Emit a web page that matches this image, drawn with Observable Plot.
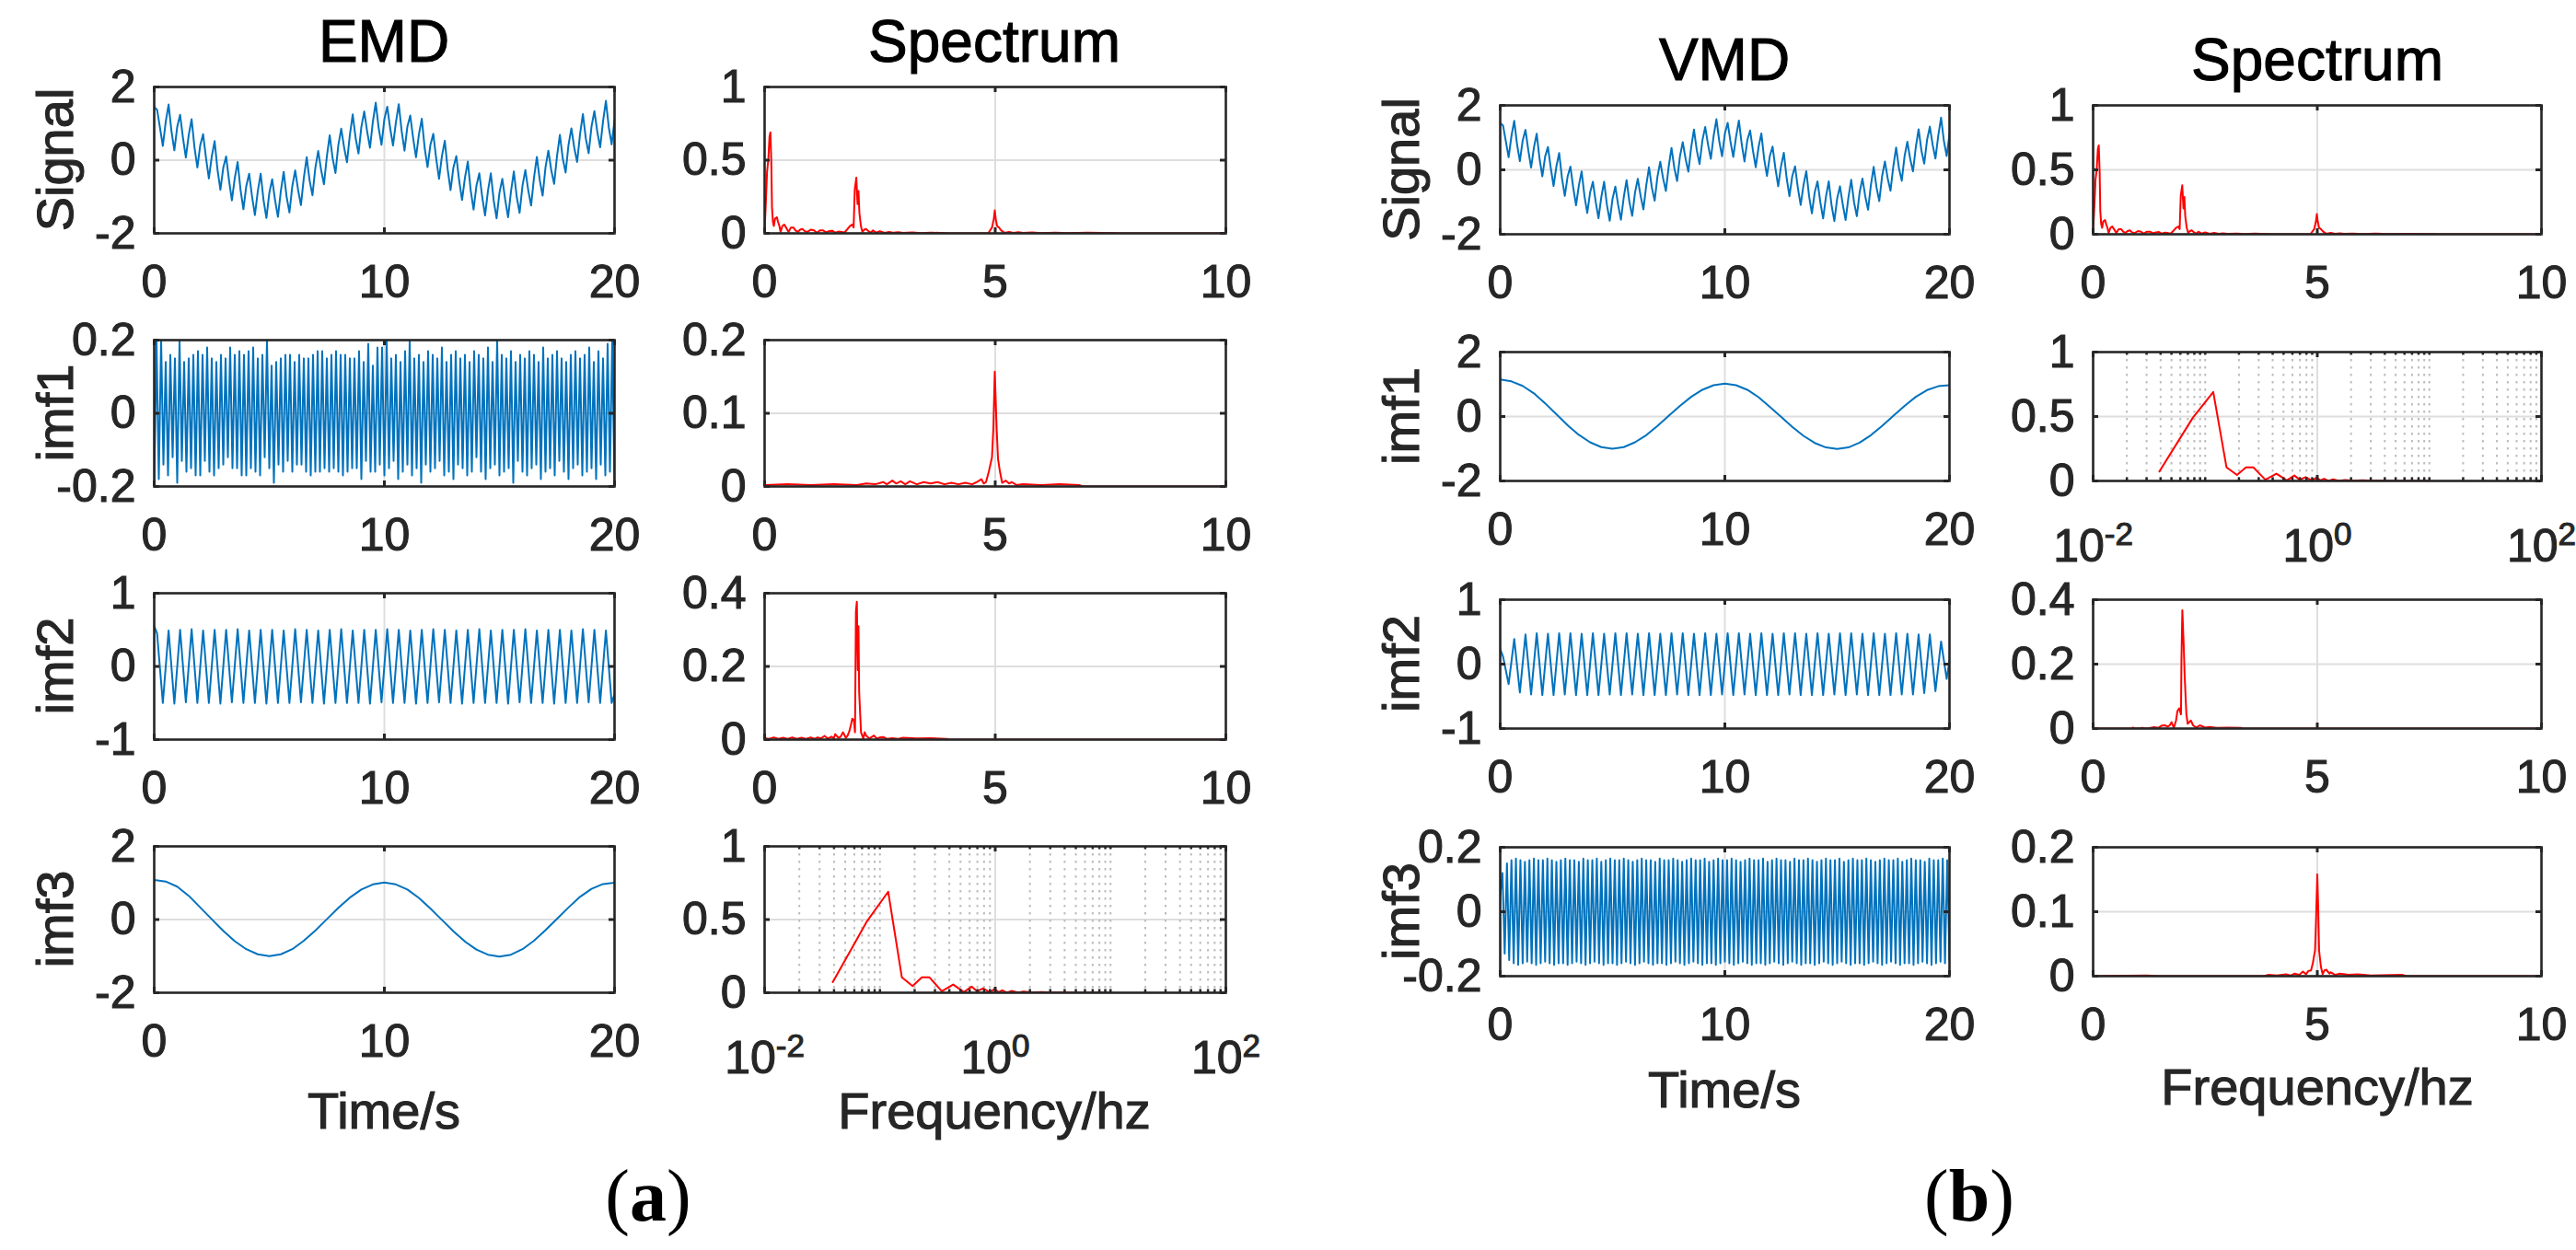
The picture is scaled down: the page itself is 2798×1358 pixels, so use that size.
<!DOCTYPE html>
<html><head><meta charset="utf-8">
<script src="https://cdn.jsdelivr.net/npm/d3@7"></script>
<script src="https://cdn.jsdelivr.net/npm/@observablehq/plot@0.6"></script>
<style>
html,body{margin:0;padding:0;background:#fff;overflow:hidden;}
#fig{position:relative;width:2798px;height:1358px;background:#fff;}
</style></head><body><div id="fig"></div>
<script>
// ---------------- DATA ----------------
// Composite signal, sampled every 0.125 s from t = 0 to 20 s
const signalT0 = 0, signalStep = 0.125;
const signal = [
 1.45,1.38,0.89,0.39,1.05,1.52,0.79,0.27,0.91,1.24,
 0.61,0.07,0.69,1.12,0.35,-0.20,0.41,0.71,0.06,-0.50,
 0.10,0.52,-0.26,-0.81,-0.21,0.10,-0.55,-1.10,-0.49,-0.05,
 -0.81,-1.34,-0.71,-0.37,-0.99,-1.50,-0.85,-0.37,-1.09,-1.58,
 -0.90,-0.52,-1.09,-1.55,-0.85,-0.32,-0.99,-1.43,-0.71,-0.28,
 -0.81,-1.23,-0.49,0.08,-0.55,-0.96,-0.21,0.25,-0.26,-0.66,
 0.10,0.68,0.06,-0.35,0.41,0.86,0.35,-0.06,0.69,1.25,
 0.61,0.18,0.91,1.33,0.79,0.34,1.05,1.57,0.89,0.42,
 1.12,1.46,0.88,0.40,1.03,1.53,0.80,0.26,0.92,1.22,
 0.60,0.08,0.70,1.13,0.34,-0.19,0.42,0.72,0.05,-0.51,
 0.11,0.53,-0.25,-0.82,-0.20,0.11,-0.56,-1.09,-0.48,-0.04,
 -0.82,-1.35,-0.70,-0.36,-1.00,-1.51,-0.84,-0.36,-1.10,-1.59,
 -0.89,-0.51,-1.08,-1.56,-0.86,-0.31,-1.00,-1.44,-0.70,-0.27,
 -0.82,-1.24,-0.48,0.09,-0.54,-0.97,-0.20,0.26,-0.27,-0.65,
 0.11,0.69,0.05,-0.34,0.42,0.87,0.34,-0.05,0.70,1.26,
 0.60,0.19,0.92,1.34,0.78,0.35,1.06,1.62,0.90,0.43,
 1.10
];
// EMD imf1 (5 Hz mode): troughs at t = 0, 0.2, ... 20 ; peaks at t = 0.1, 0.3, ... 19.9
const emdImf1Troughs = [
 -0.20,-0.18,-0.14,-0.17,-0.12,-0.19,-0.13,-0.16,-0.15,-0.17,
 -0.17,-0.13,-0.16,-0.17,-0.15,-0.14,-0.12,-0.15,-0.15,-0.17,
 -0.17,-0.15,-0.16,-0.17,-0.12,-0.15,-0.19,-0.14,-0.16,-0.13,
 -0.16,-0.14,-0.14,-0.16,-0.17,-0.16,-0.16,-0.15,-0.16,-0.15,
 -0.16,-0.17,-0.16,-0.15,-0.15,-0.18,-0.13,-0.16,-0.16,-0.14,
 -0.17,-0.15,-0.13,-0.18,-0.16,-0.14,-0.17,-0.15,-0.19,-0.14,
 -0.16,-0.15,-0.13,-0.17,-0.16,-0.18,-0.14,-0.15,-0.17,-0.16,
 -0.12,-0.16,-0.18,-0.15,-0.14,-0.17,-0.16,-0.15,-0.19,-0.13,
 -0.16,-0.17,-0.15,-0.14,-0.18,-0.16,-0.15,-0.17,-0.13,-0.16,
 -0.18,-0.15,-0.14,-0.17,-0.16,-0.15,-0.18,-0.14,-0.17,-0.16,
 -0.20
];
const emdImf1Peaks = [
 0.20,0.20,0.14,0.16,0.15,0.20,0.14,0.15,0.16,0.17,
 0.16,0.18,0.15,0.14,0.16,0.15,0.18,0.16,0.17,0.16,
 0.17,0.18,0.15,0.16,0.20,0.13,0.14,0.15,0.16,0.16,
 0.14,0.16,0.15,0.15,0.16,0.17,0.17,0.15,0.16,0.17,
 0.16,0.16,0.15,0.15,0.17,0.14,0.19,0.13,0.18,0.18,
 0.20,0.15,0.16,0.14,0.17,0.20,0.15,0.16,0.14,0.17,
 0.16,0.15,0.18,0.14,0.16,0.17,0.15,0.16,0.14,0.17,
 0.16,0.15,0.18,0.14,0.20,0.16,0.15,0.17,0.14,0.16,
 0.15,0.17,0.16,0.14,0.18,0.15,0.16,0.17,0.15,0.14,
 0.16,0.17,0.15,0.16,0.18,0.14,0.17,0.15,0.19,0.20
];
// EMD imf2 (2 Hz mode): value at t=0, extrema at t = 0.125, 0.375, ... 19.875, value at t=20
const emdImf2Start = 0.55, emdImf2End = -0.38;
const emdImf2Extrema = [
 0.45,-0.50,0.49,-0.51,0.50,-0.49,0.51,-0.50,0.49,-0.50,
 0.50,-0.51,0.50,-0.49,0.51,-0.50,0.49,-0.50,0.50,-0.51,
 0.50,-0.50,0.49,-0.50,0.51,-0.49,0.50,-0.50,0.49,-0.51,
 0.50,-0.50,0.51,-0.50,0.49,-0.50,0.50,-0.51,0.50,-0.49,
 0.51,-0.50,0.50,-0.50,0.49,-0.51,0.50,-0.50,0.51,-0.49,
 0.50,-0.50,0.49,-0.51,0.50,-0.50,0.51,-0.50,0.49,-0.50,
 0.50,-0.51,0.50,-0.49,0.51,-0.50,0.49,-0.50,0.50,-0.51,
 0.50,-0.50,0.49,-0.50,0.51,-0.49,0.50,-0.50,0.49,-0.50
];
// Slow (0.1 Hz) modes, sampled every 0.5 s
const slowStep = 0.5;
const emdImf3 = [1.08,1.04,0.90,0.65,0.33,0.01,-0.31,-0.59,-0.81,-0.95,-1.00,-0.95,-0.81,-0.58,-0.30,0.01,0.32,0.60,0.82,0.96,1.01,0.96,0.82,0.59,0.30,-0.01,-0.32,-0.60,-0.82,-0.96,-1.01,-0.96,-0.81,-0.58,-0.29,0.02,0.33,0.62,0.84,0.97,1.01];
const vmdImf1 = [1.15,1.09,0.95,0.72,0.41,0.07,-0.27,-0.57,-0.80,-0.95,-1.00,-0.95,-0.80,-0.58,-0.29,0.02,0.33,0.61,0.83,0.97,1.02,0.97,0.83,0.60,0.30,-0.01,-0.32,-0.60,-0.82,-0.96,-1.01,-0.96,-0.81,-0.58,-0.29,0.02,0.33,0.61,0.82,0.94,0.97];
// VMD imf2 (2 Hz mode)
const vmdImf2Start = 0.23, vmdImf2End = 0.06;
const vmdImf2Extrema = [
 0.12,-0.31,0.39,-0.44,0.46,-0.47,0.48,-0.48,0.47,-0.48,
 0.48,-0.47,0.48,-0.48,0.47,-0.48,0.48,-0.48,0.47,-0.47,
 0.48,-0.48,0.48,-0.47,0.47,-0.48,0.48,-0.48,0.47,-0.48,
 0.48,-0.47,0.48,-0.48,0.47,-0.48,0.48,-0.48,0.47,-0.47,
 0.48,-0.48,0.48,-0.47,0.47,-0.48,0.48,-0.48,0.47,-0.48,
 0.48,-0.47,0.48,-0.48,0.47,-0.48,0.48,-0.48,0.47,-0.47,
 0.48,-0.48,0.48,-0.47,0.47,-0.48,0.48,-0.48,0.47,-0.48,
 0.48,-0.47,0.47,-0.47,0.46,-0.45,0.46,-0.42,0.35,-0.23
];
// VMD imf3 (5 Hz mode)
const vmdImf3Troughs = [
 0.05,-0.13,-0.15,-0.16,-0.165,-0.16,-0.155,-0.16,-0.165,-0.16,
 -0.155,-0.16,-0.165,-0.16,-0.16,-0.165,-0.16,-0.155,-0.16,-0.165,
 -0.16,-0.155,-0.16,-0.165,-0.16,-0.16,-0.165,-0.16,-0.155,-0.16,
 -0.165,-0.16,-0.155,-0.16,-0.165,-0.16,-0.16,-0.165,-0.16,-0.155,
 -0.16,-0.165,-0.16,-0.155,-0.16,-0.165,-0.16,-0.16,-0.165,-0.16,
 -0.155,-0.16,-0.165,-0.16,-0.155,-0.16,-0.165,-0.16,-0.16,-0.165,
 -0.16,-0.155,-0.16,-0.165,-0.16,-0.155,-0.16,-0.165,-0.16,-0.16,
 -0.165,-0.16,-0.155,-0.16,-0.165,-0.16,-0.155,-0.16,-0.165,-0.16,
 -0.16,-0.165,-0.16,-0.155,-0.16,-0.165,-0.16,-0.155,-0.16,-0.165,
 -0.16,-0.16,-0.165,-0.16,-0.155,-0.16,-0.165,-0.16,-0.155,-0.16,
 -0.15
];
const vmdImf3Peaks = [
 0.12,0.15,0.16,0.165,0.16,0.155,0.16,0.165,0.16,0.16,
 0.165,0.16,0.155,0.16,0.165,0.16,0.16,0.155,0.165,0.16,
 0.16,0.165,0.155,0.16,0.165,0.16,0.16,0.165,0.16,0.155,
 0.16,0.165,0.16,0.16,0.155,0.165,0.16,0.16,0.165,0.16,
 0.155,0.16,0.165,0.16,0.16,0.165,0.155,0.16,0.165,0.16,
 0.16,0.165,0.16,0.155,0.16,0.165,0.16,0.16,0.165,0.155,
 0.16,0.165,0.16,0.16,0.155,0.165,0.16,0.16,0.165,0.16,
 0.155,0.16,0.165,0.16,0.16,0.165,0.155,0.16,0.165,0.16,
 0.16,0.165,0.16,0.155,0.16,0.165,0.16,0.16,0.165,0.155,
 0.16,0.165,0.16,0.16,0.155,0.165,0.16,0.16,0.165,0.16
];
// Spectra: [frequency Hz, amplitude]
const specSignal = [[0,0.02],[0.027,0.21],[0.053,0.42],[0.08,0.5],[0.106,0.66],[0.126,0.69],[0.146,0.48],[0.16,0.18],[0.18,0.08],[0.2,0.05],[0.226,0.1],[0.266,0.11],[0.29,0.08],[0.32,0.05],[0.346,0.01],[0.386,0.05],[0.426,0.06],[0.465,0.04],[0.52,0.01],[0.57,0.04],[0.625,0.04],[0.67,0.02],[0.72,0.01],[0.77,0.025],[0.82,0.03],[0.87,0.015],[0.93,0.01],[1.0,0.025],[1.07,0.02],[1.13,0.005],[1.2,0.02],[1.27,0.02],[1.33,0.008],[1.4,0.015],[1.47,0.018],[1.53,0.005],[1.6,0.012],[1.67,0.01],[1.73,0.005],[1.8,0.03],[1.85,0.05],[1.9,0.06],[1.93,0.04],[1.955,0.3],[1.988,0.38],[2.015,0.2],[2.035,0.29],[2.055,0.14],[2.088,0.05],[2.12,0.01],[2.16,0.025],[2.2,0.03],[2.25,0.015],[2.3,0.005],[2.35,0.02],[2.42,0.005],[2.5,0.015],[2.6,0.004],[2.7,0.01],[2.8,0.004],[2.9,0.008],[3.0,0.003],[3.2,0.006],[3.4,0.002],[3.6,0.005],[3.9,0.002],[4.0,0],[4.85,0.002],[4.93,0.04],[4.97,0.1],[4.99,0.157],[5.01,0.1],[5.04,0.05],[5.08,0.04],[5.13,0.02],[5.2,0.004],[5.3,0.01],[5.4,0.003],[5.5,0.008],[5.6,0.003],[5.8,0.006],[6.0,0.002],[6.3,0.005],[6.6,0.002],[7.0,0.004],[7.6,0.002],[7.7,0],[10,0]];
const specEmdImf1 = [[0,0.002],[0.5,0.003],[1.0,0.002],[1.5,0.003],[2.0,0.002],[2.2,0.004],[2.4,0.003],[2.57,0.006],[2.65,0.003],[2.77,0.008],[2.85,0.004],[2.95,0.007],[3.05,0.003],[3.15,0.007],[3.3,0.003],[3.45,0.006],[3.6,0.004],[3.75,0.006],[3.9,0.003],[4.05,0.005],[4.2,0.003],[4.35,0.005],[4.5,0.003],[4.6,0.006],[4.7,0.01],[4.75,0.004],[4.8,0.006],[4.86,0.02],[4.93,0.04],[4.96,0.08],[4.99,0.157],[5.03,0.08],[5.06,0.038],[5.1,0.021],[5.15,0.005],[5.23,0.008],[5.3,0.004],[5.36,0.006],[5.46,0.002],[5.6,0.003],[6.0,0.002],[6.4,0.003],[6.82,0.002],[6.9,0],[10,0]];
const specEmdImf2 = [[0,0.004],[0.1,0.002],[0.2,0.006],[0.3,0.002],[0.4,0.005],[0.5,0.002],[0.6,0.006],[0.7,0.002],[0.8,0.005],[0.9,0.002],[1.0,0.006],[1.08,0.002],[1.15,0.006],[1.22,0.003],[1.3,0.01],[1.37,0.003],[1.45,0.008],[1.5,0.003],[1.53,0.015],[1.6,0.005],[1.65,0.008],[1.7,0.02],[1.76,0.005],[1.8,0.011],[1.84,0.024],[1.88,0.045],[1.9,0.057],[1.935,0.053],[1.96,0.02],[1.98,0.35],[2.0,0.377],[2.02,0.19],[2.035,0.31],[2.05,0.13],[2.09,0.02],[2.14,0.003],[2.17,0.02],[2.2,0.011],[2.27,0.003],[2.37,0.011],[2.43,0.003],[2.5,0.006],[2.57,0.007],[2.65,0.002],[2.77,0.004],[2.9,0.002],[3.0,0.005],[3.3,0.003],[3.6,0.004],[3.95,0.002],[4.0,0],[10,0]];
const specLow = [[0.039,0.073],[0.0775,0.49],[0.118,0.69],[0.155,0.105],[0.192,0.046],[0.231,0.105],[0.269,0.105],[0.344,0.01],[0.432,0.056],[0.535,0.004],[0.624,0.042],[0.697,0.01],[0.787,0.03],[0.889,0.004],[0.988,0.025],[1.07,0.004],[1.15,0.017],[1.26,0.001],[1.38,0.012],[1.57,0.001],[1.77,0.008],[2.1,0.001],[2.52,0.005],[3.1,0.001],[4.0,0.002],[5.0,0],[9.96,0]];
const specVmdImf2 = [[0,0],[0.85,0],[0.88,0.003],[0.95,0],[1.1,0.002],[1.2,0],[1.36,0.004],[1.45,0.002],[1.53,0.009],[1.6,0.01],[1.66,0.006],[1.71,0.01],[1.75,0.02],[1.8,0.002],[1.85,0.025],[1.88,0.054],[1.92,0.063],[1.96,0.044],[1.97,0.21],[1.99,0.367],[2.02,0.26],[2.04,0.17],[2.08,0.044],[2.11,0.015],[2.18,0.025],[2.23,0.01],[2.3,0.003],[2.38,0.01],[2.5,0.003],[2.6,0.005],[2.75,0.002],[3.0,0.003],[3.3,0.002],[3.35,0],[10,0]];
const specVmdImf3 = [[0,0],[1.2,0.001],[1.5,0],[3.8,0],[3.9,0.002],[4.1,0.001],[4.3,0.003],[4.4,0.001],[4.5,0.004],[4.6,0.002],[4.68,0.007],[4.75,0.003],[4.8,0.008],[4.86,0.009],[4.9,0.02],[4.95,0.04],[4.97,0.082],[5.0,0.158],[5.02,0.106],[5.04,0.04],[5.08,0.015],[5.12,0.003],[5.16,0.009],[5.2,0.01],[5.27,0.004],[5.3,0.006],[5.4,0.002],[5.5,0.004],[5.7,0.002],[5.9,0.003],[6.2,0.001],[6.9,0.002],[7.0,0],[10,0]];
// Axis ticks
const timeTicks = [0, 10, 20];
const freqTicks = [0, 5, 10];
const logTicks = [0.01, 1, 100];
const logMinor = [0.02,0.03,0.04,0.05,0.06,0.07,0.08,0.09,0.1,0.2,0.3,0.4,0.5,0.6,0.7,0.8,0.9,2,3,4,5,6,7,8,9,10,20,30,40,50,60,70,80,90];
const ticksSignal = [-2, 0, 2], ticksImfSmall = [-0.2, 0, 0.2], ticksImf2 = [-1, 0, 1];
const ticksSpec1 = [0, 0.5, 1], ticksSpec02 = [0, 0.1, 0.2], ticksSpec04 = [0, 0.2, 0.4];

// ---------------- series builders ----------------
const gridSeries = (vals, t0, dt) => vals.map((v, i) => ({x: t0 + i * dt, y: v}));
const extremaSeries = (start, ext, end) => [{x: 0, y: start}, ...ext.map((v, i) => ({x: 0.125 + 0.25 * i, y: v})), {x: 20, y: end}];
const alternating = (troughs, peaks) => {
  const out = [];
  troughs.forEach((v, i) => { out.push({x: 0.2 * i, y: v}); if (i < peaks.length) out.push({x: 0.2 * i + 0.1, y: peaks[i]}); });
  return out;
};
const pairs = (arr) => arr.map(([f, a]) => ({x: f, y: a}));

// ---------------- layout ----------------
const FONT = '"Liberation Sans", Arial, Helvetica, sans-serif';
const INK = "#262626", BLUE = "#0072BD", RED = "#FF0000";
const TEXT_STROKE = 1.1;
const fig = document.getElementById("fig");
const A = {time: {x: 167, w: 500}, spec: {x: 830, w: 501}, rows: [94, 369, 644, 919], h: 159};
const B = {time: {x: 1629, w: 488}, spec: {x: 2273, w: 487}, rows: [114, 382, 651, 920], h: 140};

function subplot({left, top, w, h, data, color, log = false, xDomain, xTicks, yTicks}) {
  const mL = 150, mR = 80, mT = 45, mB = 125;
  const yDomain = [yTicks[0], yTicks[yTicks.length - 1]];
  const xGrid = xTicks.slice(1, -1), yGrid = yTicks.slice(1, -1);
  const tk = {stroke: INK, strokeWidth: 3};
  const marks = [
    Plot.ruleY(yGrid, {stroke: "#dedede", strokeWidth: 2}),
    Plot.ruleX(xGrid, {stroke: "#dedede", strokeWidth: 2})
  ];
  if (log) marks.push(Plot.ruleX(logMinor, {stroke: "#bdbdbd", strokeWidth: 2, strokeDasharray: "2.5,5.5"}));
  marks.push(
    Plot.line(data, {x: "x", y: "y", stroke: color, strokeWidth: 2, clip: true}),
    Plot.frame({stroke: INK, strokeWidth: 2.6}),
    Plot.tickX(xTicks, {x: d => d, insetTop: h - 6, ...tk}),
    Plot.tickX(xTicks, {x: d => d, insetBottom: h - 6, ...tk}),
    Plot.tickY(yTicks, {y: d => d, insetRight: w - 6, ...tk}),
    Plot.tickY(yTicks, {y: d => d, insetLeft: w - 6, ...tk})
  );
  if (log) marks.push(
    Plot.tickX(logMinor, {x: d => d, insetTop: h - 3.5, stroke: INK, strokeWidth: 2.5}),
    Plot.tickX(logMinor, {x: d => d, insetBottom: h - 3.5, stroke: INK, strokeWidth: 2.5})
  );
  marks.push(
    Plot.axisX(xTicks, {tickSize: 0, tickPadding: log ? 52 : 34, label: null,
      tickFormat: log ? (d => "10^" + Math.round(Math.log10(d))) : (d => String(d))}),
    Plot.axisY(yTicks, {tickSize: 0, tickPadding: 20, label: null, tickFormat: d => String(d)})
  );
  const svg = Plot.plot({
    width: w + mL + mR, height: h + mT + mB,
    marginLeft: mL, marginRight: mR, marginTop: mT, marginBottom: mB,
    x: {type: log ? "log" : "linear", domain: xDomain, label: null},
    y: {domain: yDomain, label: null},
    style: {fontFamily: FONT, fontSize: "50px", color: INK, background: "none", overflow: "visible"},
    marks
  });
  if (log) {
    const ns = "http://www.w3.org/2000/svg";
    svg.querySelectorAll('[aria-label="x-axis tick label"] text').forEach(t => {
      const [base, exp] = t.textContent.split("^");
      t.textContent = "";
      const a = document.createElementNS(ns, "tspan"); a.textContent = base; t.appendChild(a);
      const b = document.createElementNS(ns, "tspan"); b.textContent = exp;
      b.setAttribute("dy", "-18"); b.style.fontSize = "35px"; t.appendChild(b);
    });
  }
  svg.querySelectorAll('[aria-label$="tick label"]').forEach(g => {
    g.setAttribute("stroke", INK); g.setAttribute("stroke-width", TEXT_STROKE);
  });
  svg.style.position = "absolute";
  svg.style.left = (left - mL) + "px";
  svg.style.top = (top - mT) + "px";
  svg.style.maxWidth = "none";
  fig.appendChild(svg);
}

const timeSub = (P, row, data, yTicks) => subplot({left: P.time.x, top: P.rows[row], w: P.time.w, h: P.h, data, color: BLUE, xDomain: [0, 20], xTicks: timeTicks, yTicks});
const specSub = (P, row, data, yTicks, log = false) => subplot({left: P.spec.x, top: P.rows[row], w: P.spec.w, h: P.h, data, color: RED, log,
  xDomain: log ? [0.01, 100] : [0, 10], xTicks: log ? logTicks : freqTicks, yTicks});

// Panel (a) EMD
timeSub(A, 0, gridSeries(signal, signalT0, signalStep), ticksSignal);
timeSub(A, 1, alternating(emdImf1Troughs, emdImf1Peaks), ticksImfSmall);
timeSub(A, 2, extremaSeries(emdImf2Start, emdImf2Extrema, emdImf2End), ticksImf2);
timeSub(A, 3, gridSeries(emdImf3, 0, slowStep), ticksSignal);
specSub(A, 0, pairs(specSignal), ticksSpec1);
specSub(A, 1, pairs(specEmdImf1), ticksSpec02);
specSub(A, 2, pairs(specEmdImf2), ticksSpec04);
specSub(A, 3, pairs(specLow), ticksSpec1, true);
// Panel (b) VMD
timeSub(B, 0, gridSeries(signal, signalT0, signalStep), ticksSignal);
timeSub(B, 1, gridSeries(vmdImf1, 0, slowStep), ticksSignal);
timeSub(B, 2, extremaSeries(vmdImf2Start, vmdImf2Extrema, vmdImf2End), ticksImf2);
timeSub(B, 3, alternating(vmdImf3Troughs, vmdImf3Peaks), ticksImfSmall);
specSub(B, 0, pairs(specSignal), ticksSpec1);
specSub(B, 1, pairs(specLow), ticksSpec1, true);
specSub(B, 2, pairs(specVmdImf2), ticksSpec04);
specSub(B, 3, pairs(specVmdImf3), ticksSpec02);

// ---------------- text overlay ----------------
const ov = d3.select(fig).append("svg")
  .attr("width", 2798).attr("height", 1358)
  .style("position", "absolute").style("left", "0px").style("top", "0px")
  .style("pointer-events", "none").style("overflow", "visible")
  .attr("font-family", FONT);
function label(x, y, s, size, fill = INK, rotate = false) {
  ov.append("text").attr("transform", `translate(${x},${y})` + (rotate ? " rotate(-90)" : ""))
    .attr("text-anchor", "middle").attr("font-size", size).attr("fill", fill)
    .attr("stroke", fill).attr("stroke-width", TEXT_STROKE).text(s);
}
const rowNames = ["Signal", "imf1", "imf2", "imf3"];
for (const P of [A, B]) {
  P.rows.forEach((top, i) => label(P.time.x - 88, top + P.h / 2, rowNames[i], 56, INK, true));
}
label(417, 67, "EMD", 64, "#000");
label(1080, 67, "Spectrum", 64, "#000");
label(1873, 87, "VMD", 64, "#000");
label(2517, 87, "Spectrum", 64, "#000");
label(417, 1226, "Time/s", 56);
label(1080, 1226, "Frequency/hz", 56);
label(1873, 1203, "Time/s", 56);
label(2517, 1200, "Frequency/hz", 56);
for (const [x, letter] of [[704, "a"], [2139, "b"]]) {
  const t = ov.append("text").attr("x", x).attr("y", 1326).attr("text-anchor", "middle")
    .attr("font-family", '"Liberation Serif", "Times New Roman", serif').attr("font-size", 80).attr("fill", "#000");
  t.append("tspan").text("(");
  t.append("tspan").attr("font-weight", "bold").text(letter);
  t.append("tspan").text(")");
}
</script></body></html>
